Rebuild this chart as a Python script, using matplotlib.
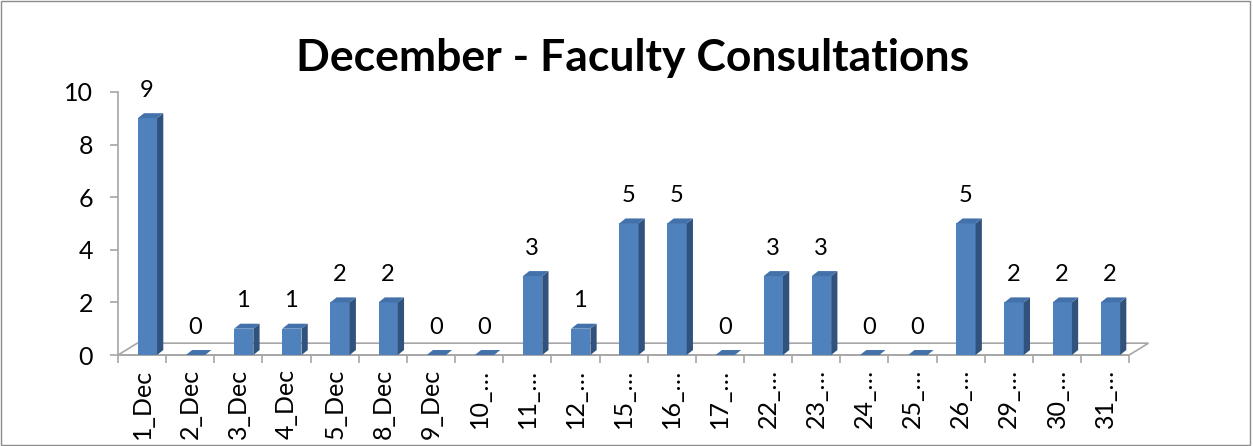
import matplotlib.pyplot as plt
from matplotlib.patches import Polygon, Rectangle

# data
days = ['1_Dec', '2_Dec', '3_Dec', '4_Dec', '5_Dec', '8_Dec', '9_Dec',
        '10_…', '11_…', '12_…', '15_…', '16_…', '17_…', '22_…', '23_…',
        '24_…', '25_…', '26_…', '29_…', '30_…', '31_…']
counts = [9, 0, 1, 1, 2, 2, 0, 0, 3, 1, 5, 5, 0, 3, 3, 0, 0, 5, 2, 2, 2]

FRONT = '#4F81BD'
SIDE = '#30527C'
TOP = '#4372AB'
GRID = '#A6A6A6'

plt.rcParams['font.family'] = ['Lato', 'DejaVu Sans']

fig = plt.figure(figsize=(12.53, 4.46), dpi=100)
ax = fig.add_axes([0.0942, 0.204, 0.807, 0.590])
n = len(days)
ax.set_xlim(-0.5, n - 0.5)
ax.set_ylim(0, 10)

# 3d offsets (data units)
bw, bl = 0.40, -0.09
ddx, ddy = 0.13, 0.19
fdx, fdy = 0.40, 0.45

# floor
floor = Polygon([(-0.5, 0), (n - 0.5, 0), (n - 0.5 + fdx, fdy), (-0.5 + fdx, fdy)],
                closed=True, facecolor='white', edgecolor=GRID, lw=1.2,
                clip_on=False, zorder=1)
ax.add_patch(floor)

for i, v in enumerate(counts):
    x0 = i + bl
    x1 = x0 + bw
    ax.bar(x0, v, width=bw, align='edge', color=FRONT, zorder=3)
    side = Polygon([(x1, 0), (x1 + ddx, ddy), (x1 + ddx, v + ddy), (x1, v)],
                   closed=True, facecolor=SIDE, edgecolor='none', zorder=3,
                   clip_on=False)
    top = Polygon([(x0, v), (x1, v), (x1 + ddx, v + ddy), (x0 + ddx, v + ddy)],
                  closed=True, facecolor=TOP, edgecolor='none', zorder=4,
                  clip_on=False)
    ax.add_patch(side)
    ax.add_patch(top)
    ax.annotate(str(v), xy=(i + 0.1, v), xytext=(0, 20), textcoords='offset points',
                ha='center', va='center', fontsize=17, zorder=5)

for s in ['top', 'right']:
    ax.spines[s].set_visible(False)
ax.spines['left'].set_color(GRID)
ax.spines['bottom'].set_color(GRID)
ax.spines['left'].set_linewidth(1.2)
ax.spines['bottom'].set_linewidth(1.2)

ax.set_yticks(range(0, 11, 2))
ax.set_xticks(range(n))
ax.set_xticklabels(days, rotation=90, fontsize=18)
ax.tick_params(axis='x', length=0, pad=10)
ax.set_xticks([i - 0.5 for i in range(n + 1)], minor=True)
ax.tick_params(axis='x', which='minor', length=6, color=GRID, width=1.2)
ax.tick_params(axis='y', labelsize=18, length=6, color=GRID, width=1.2, pad=12)

fig.text(0.505, 0.87, 'December - Faculty Consultations', ha='center', va='center',
         fontsize=32, fontweight='bold')

fig.patches.append(Rectangle((0.001, 0.002), 0.997, 0.995, transform=fig.transFigure,
                             fill=False, edgecolor='#8C8C8C', lw=1))

fig.savefig('out.png', dpi=100)
